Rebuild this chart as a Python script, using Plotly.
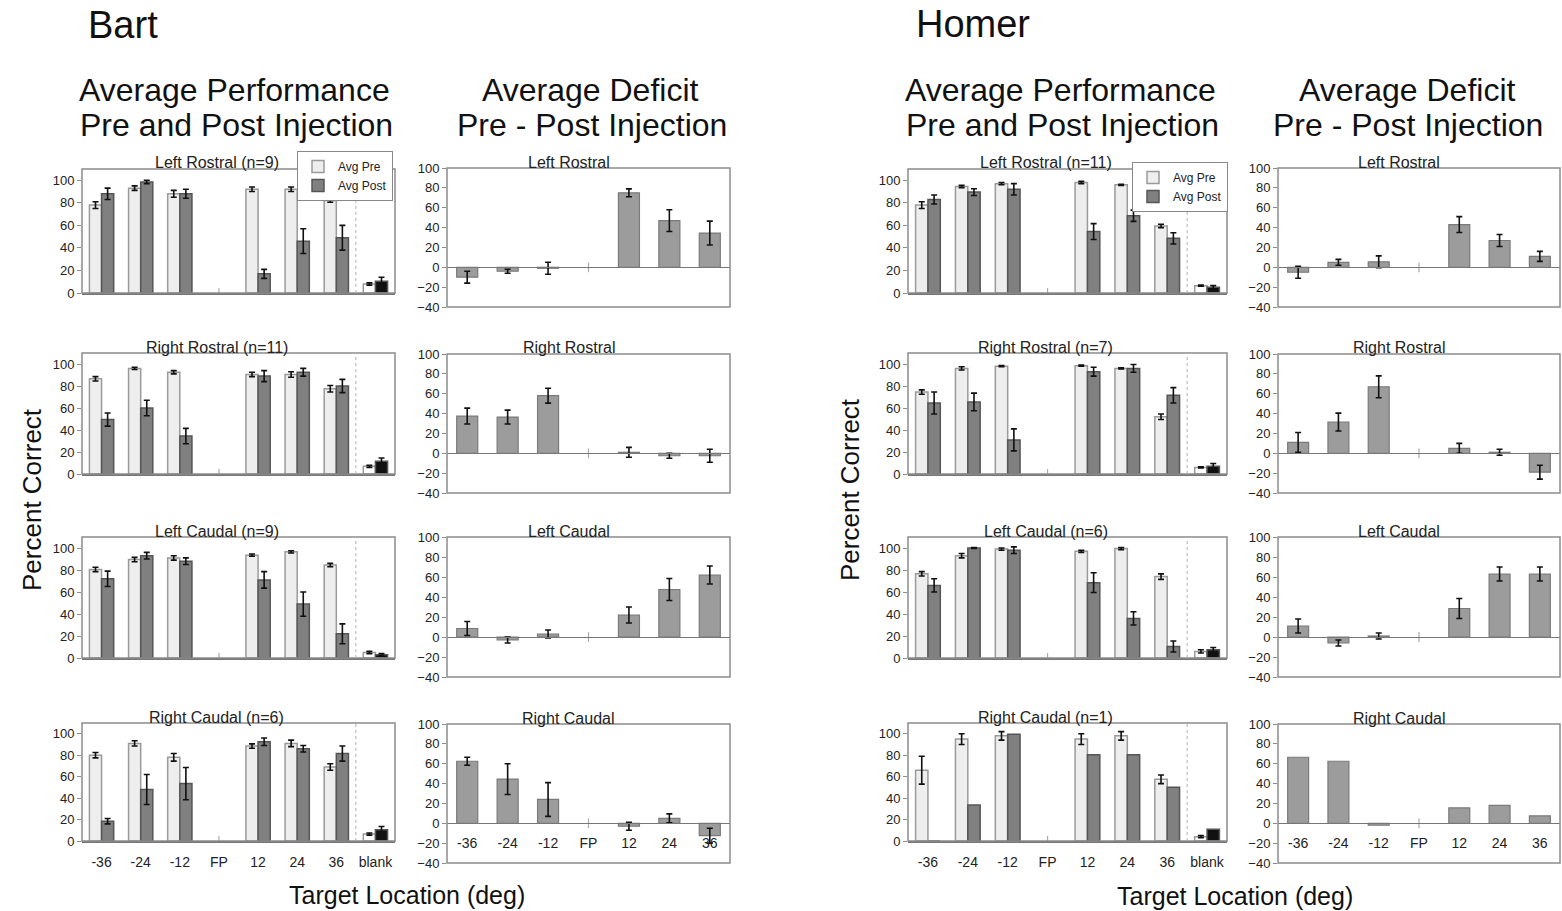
import plotly.graph_objects as go

W, H = 1562, 911
FONT = "Arial, Liberation Sans, sans-serif"

CATS_PERF = ["-36", "-24", "-12", "FP", "12", "24", "36", "blank"]
CATS_DEF = ["-36", "-24", "-12", "FP", "12", "24", "36"]

# ---------------- Bart: performance ----------------
BART_LR_PRE = [78, 93, 88, None, 92, 92, 82, 8]
BART_LR_PRE_ERR = [3, 2, 3, None, 2, 2, 1.5, 1]
BART_LR_POST = [88, 98.5, 88, None, 17, 46, 49, 10.5]
BART_LR_POST_ERR = [5, 1.5, 4, None, 4, 11, 11, 3.5]

BART_RR_PRE = [86.5, 96, 92.5, None, 90.5, 90.5, 77.5, 7]
BART_RR_PRE_ERR = [2, 1, 1.5, None, 2, 2.5, 3, 1]
BART_RR_POST = [49.5, 60, 34.5, None, 89, 92.5, 80, 11.5]
BART_RR_POST_ERR = [6, 7, 7, None, 5, 3.5, 6, 3]

BART_LC_PRE = [80.5, 89.5, 91, None, 93.5, 96.5, 84.5, 5]
BART_LC_PRE_ERR = [2, 2, 2, None, 1, 1, 1.5, 1]
BART_LC_POST = [72, 93, 88, None, 71, 49, 22, 3]
BART_LC_POST_ERR = [7, 3, 3, None, 7.5, 11, 9, 1]

BART_RC_PRE = [80, 91, 78, None, 88.5, 91, 69, 6.5]
BART_RC_PRE_ERR = [2.5, 2.5, 3.5, None, 2, 3, 3, 1]
BART_RC_POST = [18.5, 48, 53.5, None, 92.5, 86, 81.5, 10.5]
BART_RC_POST_ERR = [2.5, 14, 15, None, 3.5, 3, 7, 3]

# ---------------- Bart: deficit ----------------
BART_LR_DEF = [-10, -4, -1, None, 75, 47, 34.5]
BART_LR_DEF_ERR = [6, 2, 6, None, 4, 11, 12]
BART_RR_DEF = [37.5, 36.5, 58, None, 1, -2.5, -2.5]
BART_RR_DEF_ERR = [8, 7, 7.5, None, 5, 2.5, 6.5]
BART_LC_DEF = [8.5, -3, 3, None, 22, 47.5, 62]
BART_LC_DEF_ERR = [7, 3, 4, None, 8, 11, 9]
BART_RC_DEF = [62.5, 44.5, 24, None, -3, 5, -12.5]
BART_RC_DEF_ERR = [4, 15.5, 17, None, 4, 4.5, 7.5]

# ---------------- Homer: performance ----------------
HOMER_LR_PRE = [78, 94.5, 97, None, 98, 96, 59.5, 6.5]
HOMER_LR_PRE_ERR = [3, 1, 1, None, 1, 0.5, 1.5, 0.5]
HOMER_LR_POST = [83, 89.5, 92, None, 54.5, 68.5, 48.5, 5]
HOMER_LR_POST_ERR = [4, 3, 5, None, 7, 5, 5, 1.5]

HOMER_RR_PRE = [74.5, 96, 98, None, 98.5, 96, 52, 6]
HOMER_RR_PRE_ERR = [2, 1.5, 0.5, None, 0.5, 0.5, 2.5, 0.5]
HOMER_RR_POST = [64.5, 65.5, 31, None, 93, 96, 71.5, 7]
HOMER_RR_POST_ERR = [10, 8, 10, None, 4, 3.5, 7, 2.5]

HOMER_LC_PRE = [76.5, 93, 99, None, 97, 99.5, 74, 6]
HOMER_LC_PRE_ERR = [2, 2, 1, None, 1, 1, 2.5, 1.5]
HOMER_LC_POST = [66, 100, 98, None, 68.5, 36, 10.5, 7.5]
HOMER_LC_POST_ERR = [6, 0.5, 3, None, 9, 6, 5, 2]

HOMER_RC_PRE = [66, 95, 98, None, 95, 98, 57.5, 4]
HOMER_RC_PRE_ERR = [13, 5, 4, None, 5, 4, 4, 1]
HOMER_RC_POST = [0, 33.5, 99.5, None, 80.5, 80.5, 50, 11]
HOMER_RC_POST_ERR = [None, None, None, None, None, None, None, None]

# ---------------- Homer: deficit ----------------
HOMER_LR_DEF = [-5, 5, 5.5, None, 43, 27, 11]
HOMER_LR_DEF_ERR = [6, 3, 6, None, 8, 6, 5]
HOMER_RR_DEF = [11, 31.5, 67, None, 5, 1, -19]
HOMER_RR_DEF_ERR = [10, 9, 11, None, 5, 3, 7]
HOMER_LC_DEF = [11, -6, 1, None, 28.5, 63, 63]
HOMER_LC_DEF_ERR = [7, 3, 3, None, 10, 7, 7]
HOMER_RC_DEF = [66.5, 62.5, -2, None, 15.5, 18, 7.5]
HOMER_RC_DEF_ERR = [None, None, None, None, None, None, None]

# ---------------- layout geometry (pixels) ----------------
COL_X = {"bart_perf": (82, 395), "bart_def": (447, 730),
         "homer_perf": (908, 1227), "homer_def": (1278, 1560)}
PERF_ROWS = [(169, 293), (353, 474), (537, 658), (723, 841)]
DEF_ROWS = [(168, 307), (354, 493), (537, 677), (724, 863)]

PERF_RANGE = [0, 110]
DEF_RANGE = [-40, 100]

PERF_PANELS = [
    ("bart_perf", 0, "Left Rostral (n=9)", BART_LR_PRE, BART_LR_PRE_ERR, BART_LR_POST, BART_LR_POST_ERR, "legend"),
    ("bart_perf", 1, "Right Rostral (n=11)", BART_RR_PRE, BART_RR_PRE_ERR, BART_RR_POST, BART_RR_POST_ERR, None),
    ("bart_perf", 2, "Left Caudal (n=9)", BART_LC_PRE, BART_LC_PRE_ERR, BART_LC_POST, BART_LC_POST_ERR, None),
    ("bart_perf", 3, "Right Caudal (n=6)", BART_RC_PRE, BART_RC_PRE_ERR, BART_RC_POST, BART_RC_POST_ERR, None),
    ("homer_perf", 0, "Left Rostral (n=11)", HOMER_LR_PRE, HOMER_LR_PRE_ERR, HOMER_LR_POST, HOMER_LR_POST_ERR, "legend2"),
    ("homer_perf", 1, "Right Rostral (n=7)", HOMER_RR_PRE, HOMER_RR_PRE_ERR, HOMER_RR_POST, HOMER_RR_POST_ERR, None),
    ("homer_perf", 2, "Left Caudal (n=6)", HOMER_LC_PRE, HOMER_LC_PRE_ERR, HOMER_LC_POST, HOMER_LC_POST_ERR, None),
    ("homer_perf", 3, "Right Caudal (n=1)", HOMER_RC_PRE, HOMER_RC_PRE_ERR, HOMER_RC_POST, HOMER_RC_POST_ERR, None),
]
DEF_PANELS = [
    ("bart_def", 0, "Left Rostral", BART_LR_DEF, BART_LR_DEF_ERR),
    ("bart_def", 1, "Right Rostral", BART_RR_DEF, BART_RR_DEF_ERR),
    ("bart_def", 2, "Left Caudal", BART_LC_DEF, BART_LC_DEF_ERR),
    ("bart_def", 3, "Right Caudal", BART_RC_DEF, BART_RC_DEF_ERR),
    ("homer_def", 0, "Left Rostral", HOMER_LR_DEF, HOMER_LR_DEF_ERR),
    ("homer_def", 1, "Right Rostral", HOMER_RR_DEF, HOMER_RR_DEF_ERR),
    ("homer_def", 2, "Left Caudal", HOMER_LC_DEF, HOMER_LC_DEF_ERR),
    ("homer_def", 3, "Right Caudal", HOMER_RC_DEF, HOMER_RC_DEF_ERR),
]

PRE_FILL, PRE_LINE, PRE_BLANK = "#eeeeee", "#9a9a9a", "#ffffff"
POST_FILL, POST_LINE, POST_BLANK = "#808080", "#555555", "#111111"
DEF_FILL, DEF_LINE = "#9c9c9c", "#7a7a7a"
FRAME = "#8c8c8c"
TXT = "#222222"


def px_dom_x(a, b):
    return [a / W, b / W]


def px_dom_y(top, bottom):
    return [1 - bottom / H, 1 - top / H]


fig = go.Figure()
layout = {}
shapes = []
annotations = []


def err_obj(arr):
    if all(v is None for v in arr):
        return dict(visible=False)
    return dict(type="data", array=arr, visible=True, color="#111111", thickness=1.6, width=3)


idx = 0
for col, row, title, pre, pre_err, post, post_err, leg in PERF_PANELS:
    idx += 1
    xa = "x" if idx == 1 else f"x{idx}"
    ya = "y" if idx == 1 else f"y{idx}"
    xk = "xaxis" if idx == 1 else f"xaxis{idx}"
    yk = "yaxis" if idx == 1 else f"yaxis{idx}"
    x0, x1 = COL_X[col]
    top, bot = PERF_ROWS[row]
    bottom_row = row == 3
    pre_colors = [PRE_BLANK if c == "blank" else PRE_FILL for c in CATS_PERF]
    post_colors = [POST_BLANK if c == "blank" else POST_FILL for c in CATS_PERF]
    fig.add_trace(go.Bar(x=CATS_PERF, y=pre, xaxis=xa, yaxis=ya, name="Avg Pre",
                         width=0.31, offset=-0.31,
                         marker=dict(color=pre_colors, line=dict(color=PRE_LINE, width=1.5)),
                         error_y=err_obj(pre_err),
                         showlegend=leg is not None, legend=leg or "legend"))
    fig.add_trace(go.Bar(x=CATS_PERF, y=post, xaxis=xa, yaxis=ya, name="Avg Post",
                         width=0.31, offset=0.0,
                         marker=dict(color=post_colors, line=dict(color=POST_LINE, width=1.5)),
                         error_y=err_obj(post_err),
                         showlegend=leg is not None, legend=leg or "legend"))
    fig.add_trace(go.Scatter(x=["FP"], y=[0], xaxis=xa, yaxis=ya, mode="markers",
                             marker=dict(symbol="line-ns", size=7, line=dict(color="#aaaaaa", width=1.2)),
                             showlegend=False, hoverinfo="skip"))
    layout[xk] = dict(domain=px_dom_x(x0, x1), anchor=ya, type="category", automargin=False,
                      categoryorder="array", categoryarray=CATS_PERF, range=[-0.5, 7.5],
                      showline=True, linecolor="#777777", linewidth=1.5, mirror=False,
                      showgrid=False, zeroline=False, ticks="",
                      showticklabels=bottom_row, ticklabelstandoff=7,
                      tickfont=dict(family=FONT, size=14, color=TXT))
    layout[yk] = dict(domain=px_dom_y(top, bot), anchor=xa, range=PERF_RANGE, automargin=False,
                      tickvals=[0, 20, 40, 60, 80, 100], showgrid=False, zeroline=False,
                      showline=False, ticks="outside", ticklen=4, tickcolor=FRAME,
                      tickfont=dict(family=FONT, size=13, color=TXT))
    shapes.append(dict(type="rect", xref=f"{xa} domain", yref=f"{ya} domain",
                       x0=0, x1=1, y0=0, y1=1, line=dict(color=FRAME, width=1.5), layer="above"))
    # dotted separator between "36" and "blank"
    shapes.append(dict(type="line", xref=xa, yref=f"{ya} domain",
                       x0=CATS_PERF.index("36") + 0.5, x1=CATS_PERF.index("36") + 0.5, y0=0, y1=1,
                       line=dict(color="#b0b0b0", width=1, dash="dot")))
    annotations.append(dict(text=title, xref="paper", yref="paper",
                            x=((x0 + x1) / 2 - 22) / W, y=1 - (top - 6) / H,
                            xanchor="center", yanchor="middle", showarrow=False,
                            font=dict(family=FONT, size=16, color=TXT)))

for col, row, title, vals, errs in DEF_PANELS:
    idx += 1
    xa, ya = f"x{idx}", f"y{idx}"
    xk, yk = f"xaxis{idx}", f"yaxis{idx}"
    x0, x1 = COL_X[col]
    top, bot = DEF_ROWS[row]
    bottom_row = row == 3
    zero_px = top + (DEF_RANGE[1] - 0) / (DEF_RANGE[1] - DEF_RANGE[0]) * (bot - top)
    fig.add_trace(go.Bar(x=CATS_DEF, y=vals, xaxis=xa, yaxis=ya, width=0.52,
                         marker=dict(color=DEF_FILL, line=dict(color=DEF_LINE, width=1.2)),
                         error_y=err_obj(errs), showlegend=False))
    fig.add_trace(go.Scatter(x=["FP"], y=[0], xaxis=xa, yaxis=ya, mode="markers",
                             marker=dict(symbol="line-ns", size=7, line=dict(color="#aaaaaa", width=1.2)),
                             showlegend=False, hoverinfo="skip"))
    layout[xk] = dict(domain=px_dom_x(x0, x1), anchor="free", position=1 - zero_px / H,
                      type="category", categoryorder="array", categoryarray=CATS_DEF,
                      automargin=False,
                      range=[-0.5, 6.5], showline=True, linecolor="#777777", linewidth=1.2,
                      showgrid=False, zeroline=False, ticks="",
                      showticklabels=bottom_row, ticklabelstandoff=7,
                      tickfont=dict(family=FONT, size=14, color=TXT))
    layout[yk] = dict(domain=px_dom_y(top, bot), anchor=xa, range=DEF_RANGE, automargin=False,
                      tickvals=[-40, -20, 0, 20, 40, 60, 80, 100], showgrid=False, zeroline=False,
                      showline=False, ticks="outside", ticklen=4, tickcolor=FRAME,
                      tickfont=dict(family=FONT, size=13, color=TXT))
    shapes.append(dict(type="rect", xref=f"{xa} domain", yref=f"{ya} domain",
                       x0=0, x1=1, y0=0, y1=1, line=dict(color=FRAME, width=1.5), layer="above"))
    annotations.append(dict(text=title, xref="paper", yref="paper",
                            x=((x0 + x1) / 2 - 20) / W, y=1 - (top - 6) / H,
                            xanchor="center", yanchor="middle", showarrow=False,
                            font=dict(family=FONT, size=16, color=TXT)))


def txt(text, xpx, ypx, size, angle=0):
    annotations.append(dict(text=text, xref="paper", yref="paper", x=xpx / W, y=1 - ypx / H,
                            xanchor="center", yanchor="middle", showarrow=False, textangle=angle,
                            font=dict(family=FONT, size=size, color="#111111")))


txt("Bart", 123, 25, 38)
txt("Homer", 973, 24, 38)
txt("Average Performance", 234, 90, 32)
txt("Pre and Post Injection", 236, 125, 32)
txt("Average Deficit", 590, 90, 32)
txt("Pre - Post Injection", 592, 125, 32)
txt("Average Performance", 1060, 90, 32)
txt("Pre and Post Injection", 1062, 125, 32)
txt("Average Deficit", 1407, 90, 32)
txt("Pre - Post Injection", 1408, 125, 32)
txt("Percent Correct", 32, 500, 26, -90)
txt("Percent Correct", 850, 490, 26, -90)
txt("Target Location (deg)", 407, 895, 25)
txt("Target Location (deg)", 1235, 896, 25)

legend_style = dict(bgcolor="#ffffff", bordercolor="#888888", borderwidth=1,
                    font=dict(family=FONT, size=12, color=TXT), tracegroupgap=0,
                    itemwidth=30, xanchor="right", yanchor="top")

fig.update_layout(
    width=W, height=H,
    margin=dict(l=0, r=0, t=0, b=0, pad=0, autoexpand=False),
    paper_bgcolor="#ffffff", plot_bgcolor="#ffffff",
    barmode="overlay",
    font=dict(family=FONT, color=TXT),
    showlegend=True,
    legend=dict(x=393 / W, y=1 - 151 / H, **legend_style),
    legend2=dict(x=1228 / W, y=1 - 162 / H, **legend_style),
    shapes=shapes,
    annotations=annotations,
    **layout,
)

fig.write_html("out.html", config={"displayModeBar": False},
               post_script="document.body.style.margin='0';")
